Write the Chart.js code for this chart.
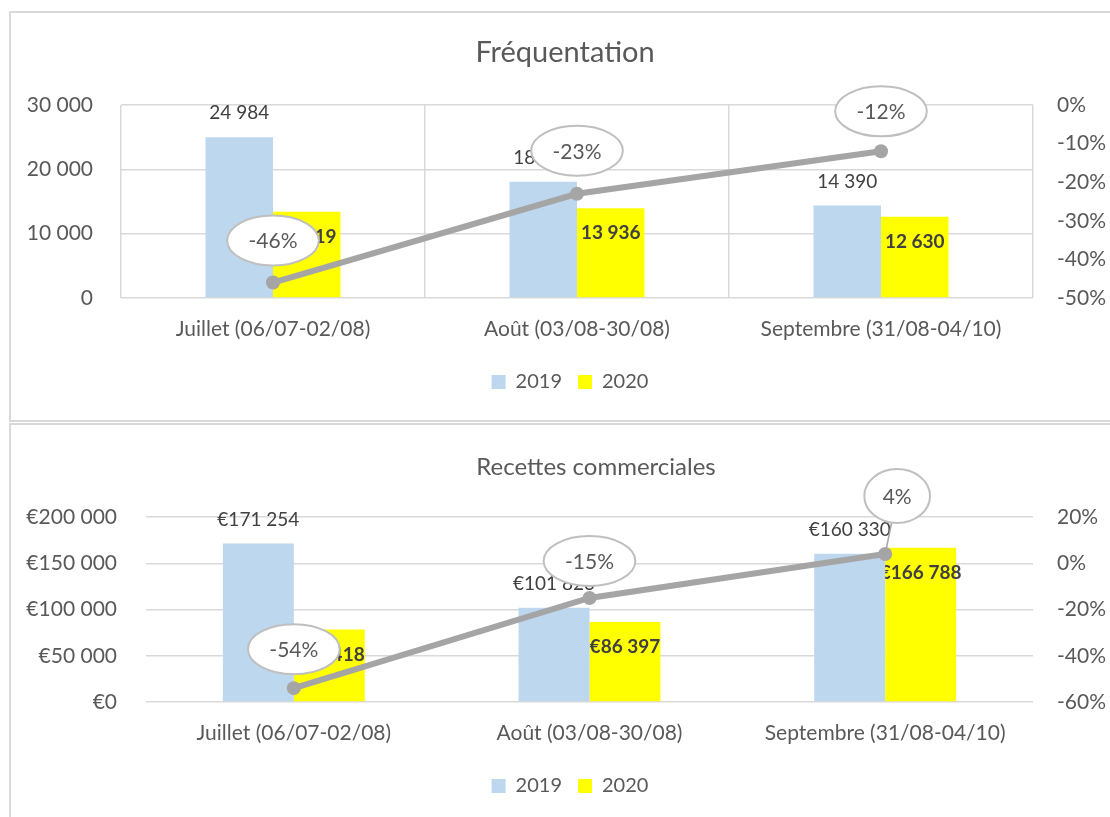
<!DOCTYPE html>
<html>
<head>
<meta charset="utf-8">
<script src="https://cdn.jsdelivr.net/npm/chart.js@4.4.1/dist/chart.umd.min.js"></script>
<style>
  html, body { margin: 0; padding: 0; background: #fff; }
  body { width: 1110px; height: 817px; overflow: hidden; position: relative; }
  .panel { position: absolute; border: 2px solid #D9D9D9; box-sizing: border-box; }
  canvas { position: absolute; }
</style>
</head>
<body>
<div class="panel" style="left:9px;top:11px;width:1130px;height:411px"></div>
<div class="panel" style="left:9px;top:423px;width:1130px;height:420px"></div>
<canvas id="visitsChart" width="1120" height="409" style="left:10px;top:12px"></canvas>
<canvas id="salesChart" width="1120" height="400" style="left:10px;top:424px"></canvas>
<script>
const categories = ['Juillet (06/07-02/08)', 'Août (03/08-30/08)', 'Septembre (31/08-04/10)'];
const seriesNames = ['2019', '2020'];

const visits2019 = [24984, 18078, 14390];
const visits2020 = [13419, 13936, 12630];
const visitsChange = [-46, -23, -12];

const sales2019 = [171254, 101823, 160330];
const sales2020 = [78418, 86397, 166788];
const salesChange = [-54, -15, 4];

const visitsTicks = [0, 10000, 20000, 30000];
const visitsChangeTicks = [-50, -40, -30, -20, -10, 0];
const salesTicks = [0, 50000, 100000, 150000, 200000];
const salesChangeTicks = [-60, -40, -20, 0, 20];

const BLUE = '#BDD7EE';
const YELLOW = '#FFFF00';
const GREY_LINE = '#A5A5A5';
const GRID = '#D9D9D9';
const TEXT = '#595959';
const DARK = '#404040';

Chart.defaults.font.family = 'Lato';
Chart.defaults.color = TEXT;

const groupSep = n => String(Math.abs(n)).replace(/\B(?=(\d{3})+(?!\d))/g, ' ');
const fmtNumber = n => (n < 0 ? '-' : '') + groupSep(n);
const fmtEuro = n => '€' + groupSep(n);
const fmtPct = n => n + '%';

// panel title, drawn where Excel put it (not centred on the canvas)
const titlePlugin = {
    id: 'panelTitle',
    afterDraw(chart, args, opts) {
        const ctx = chart.ctx;
        ctx.save();
        ctx.font = opts.size + 'px Lato';
        ctx.fillStyle = TEXT;
        ctx.textAlign = 'center';
        ctx.textBaseline = 'middle';
        ctx.fillText(opts.text, opts.x, opts.y);
        ctx.restore();
    }
};

// bar value labels: drawn right after each bar dataset, so the line goes over them
const valueLabelPlugin = {
    id: 'valueLabels',
    afterDatasetDraw(chart, args, opts) {
        const ds = chart.data.datasets[args.index];
        if (ds.type === 'line') return;
        const style = opts.bars[args.index];
        const ctx = chart.ctx;
        const meta = chart.getDatasetMeta(args.index);
        ctx.save();
        ctx.font = style.font;
        ctx.fillStyle = DARK;
        ctx.textAlign = 'center';
        ctx.textBaseline = 'middle';
        meta.data.forEach((bar, i) => {
            ctx.fillText(opts.format(ds.data[i]), bar.x, bar.y + style.dy);
        });
        ctx.restore();
    },
    afterDatasetsDraw(chart, args, opts) {
        const ctx = chart.ctx;
        const idx = chart.data.datasets.findIndex(d => d.type === 'line');
        const ds = chart.data.datasets[idx];
        const meta = chart.getDatasetMeta(idx);
        ctx.save();
        ctx.font = '21px Lato';
        meta.data.forEach((pt, i) => {
            const off = opts.callouts[i];
            const text = fmtPct(ds.data[i]);
            const tw = ctx.measureText(text).width;
            const rx = tw * 0.65 + 14;
            const ry = off.ry || 25;
            const cx = pt.x + off.dx;
            const cy = pt.y + off.dy;
            if (off.leader) {
                const dx = cx - pt.x, dy = cy - pt.y;
                const t = 1 / Math.sqrt((dx / rx) ** 2 + (dy / ry) ** 2);
                ctx.strokeStyle = GREY_LINE;
                ctx.lineWidth = 1.5;
                ctx.beginPath();
                ctx.moveTo(pt.x, pt.y);
                ctx.lineTo(cx - dx * t, cy - dy * t);
                ctx.stroke();
            }
            ctx.beginPath();
            ctx.ellipse(cx, cy, rx, ry, 0, 0, Math.PI * 2);
            ctx.fillStyle = '#FFFFFF';
            ctx.fill();
            ctx.strokeStyle = '#BFBFBF';
            ctx.lineWidth = 2;
            ctx.stroke();
            ctx.fillStyle = TEXT;
            ctx.textAlign = 'center';
            ctx.textBaseline = 'middle';
            ctx.fillText(text, cx, cy + 1);
        });
        ctx.restore();
    }
};

function buildChart(canvasId, cfg) {
    const ctx = document.getElementById(canvasId).getContext('2d');
    return new Chart(ctx, {
        type: 'bar',
        data: {
            labels: categories,
            datasets: [{
                label: seriesNames[0],
                data: cfg.first,
                backgroundColor: BLUE,
                categoryPercentage: cfg.catPct,
                barPercentage: 1,
                yAxisID: 'y',
                order: 1
            }, {
                label: seriesNames[1],
                data: cfg.second,
                backgroundColor: YELLOW,
                categoryPercentage: cfg.catPct,
                barPercentage: 1,
                yAxisID: 'y',
                order: 1
            }, {
                type: 'line',
                label: 'Évolution',
                data: cfg.change,
                borderColor: GREY_LINE,
                backgroundColor: GREY_LINE,
                borderWidth: 6,
                pointRadius: 7,
                pointBorderWidth: 0,
                pointBackgroundColor: GREY_LINE,
                tension: 0,
                yAxisID: 'y1',
                order: 0
            }]
        },
        options: {
            responsive: false,
            animation: false,
            layout: { padding: { top: 93, bottom: cfg.padBottom, left: 0, right: 0 } },
            plugins: {
                title: { display: false },
                tooltip: { enabled: false },
                legend: {
                    position: 'bottom',
                    labels: {
                        boxWidth: 14,
                        boxHeight: 14,
                        padding: 16,
                        color: TEXT,
                        font: { size: 20 },
                        filter: item => item.datasetIndex < 2
                    }
                },
                panelTitle: cfg.title,
                valueLabels: {
                    format: cfg.format,
                    bars: [
                        { dy: -24, font: '19px Lato' },
                        { dy: 25, font: 'bold 19px Lato' }
                    ],
                    callouts: cfg.callouts
                }
            },
            scales: {
                x: {
                    grid: { display: cfg.xGrid, color: GRID, lineWidth: 1.5, drawTicks: false, offset: true },
                    border: { display: false },
                    ticks: { padding: 19, color: TEXT, font: { size: 21 } },
                    afterFit: s => { s.height = 58; }
                },
                y: {
                    position: 'left',
                    min: cfg.ticks[0],
                    max: cfg.ticks[cfg.ticks.length - 1],
                    grid: { color: GRID, lineWidth: 1.5, drawTicks: false },
                    border: { display: false },
                    ticks: {
                        stepSize: cfg.ticks[1] - cfg.ticks[0],
                        padding: cfg.leftPad,
                        color: TEXT,
                        font: { size: 21 },
                        callback: v => cfg.format(v)
                    },
                    afterFit: s => { s.width = cfg.leftWidth; }
                },
                y1: {
                    position: 'right',
                    min: cfg.changeTicks[0],
                    max: cfg.changeTicks[cfg.changeTicks.length - 1],
                    grid: { display: false, drawTicks: false },
                    border: { display: false },
                    ticks: {
                        stepSize: cfg.changeTicks[1] - cfg.changeTicks[0],
                        padding: 24,
                        color: TEXT,
                        font: { size: 21 },
                        callback: v => fmtPct(v)
                    },
                    afterFit: s => { s.width = 97; }
                }
            }
        },
        plugins: [titlePlugin, valueLabelPlugin]
    });
}

buildChart('visitsChart', {
    first: visits2019,
    second: visits2020,
    change: visitsChange,
    ticks: visitsTicks,
    changeTicks: visitsChangeTicks,
    format: fmtNumber,
    catPct: 0.444,
    xGrid: true,
    leftWidth: 111,
    leftPad: 28,
    padBottom: 19,
    title: { text: 'Fréquentation', x: 555, y: 41, size: 29 },
    callouts: [{ dx: 0, dy: -42 }, { dx: 0, dy: -43 }, { dx: 0, dy: -40 }]
});

buildChart('salesChart', {
    first: sales2019,
    second: sales2020,
    change: salesChange,
    ticks: salesTicks,
    changeTicks: salesChangeTicks,
    format: fmtEuro,
    catPct: 0.48,
    xGrid: false,
    leftWidth: 136,
    leftPad: 29,
    padBottom: 18,
    title: { text: 'Recettes commerciales', x: 586, y: 43, size: 24 },
    callouts: [{ dx: 0, dy: -39 }, { dx: 0, dy: -37 }, { dx: 12, dy: -58, ry: 27, leader: true }]
});
</script>
</body>
</html>
